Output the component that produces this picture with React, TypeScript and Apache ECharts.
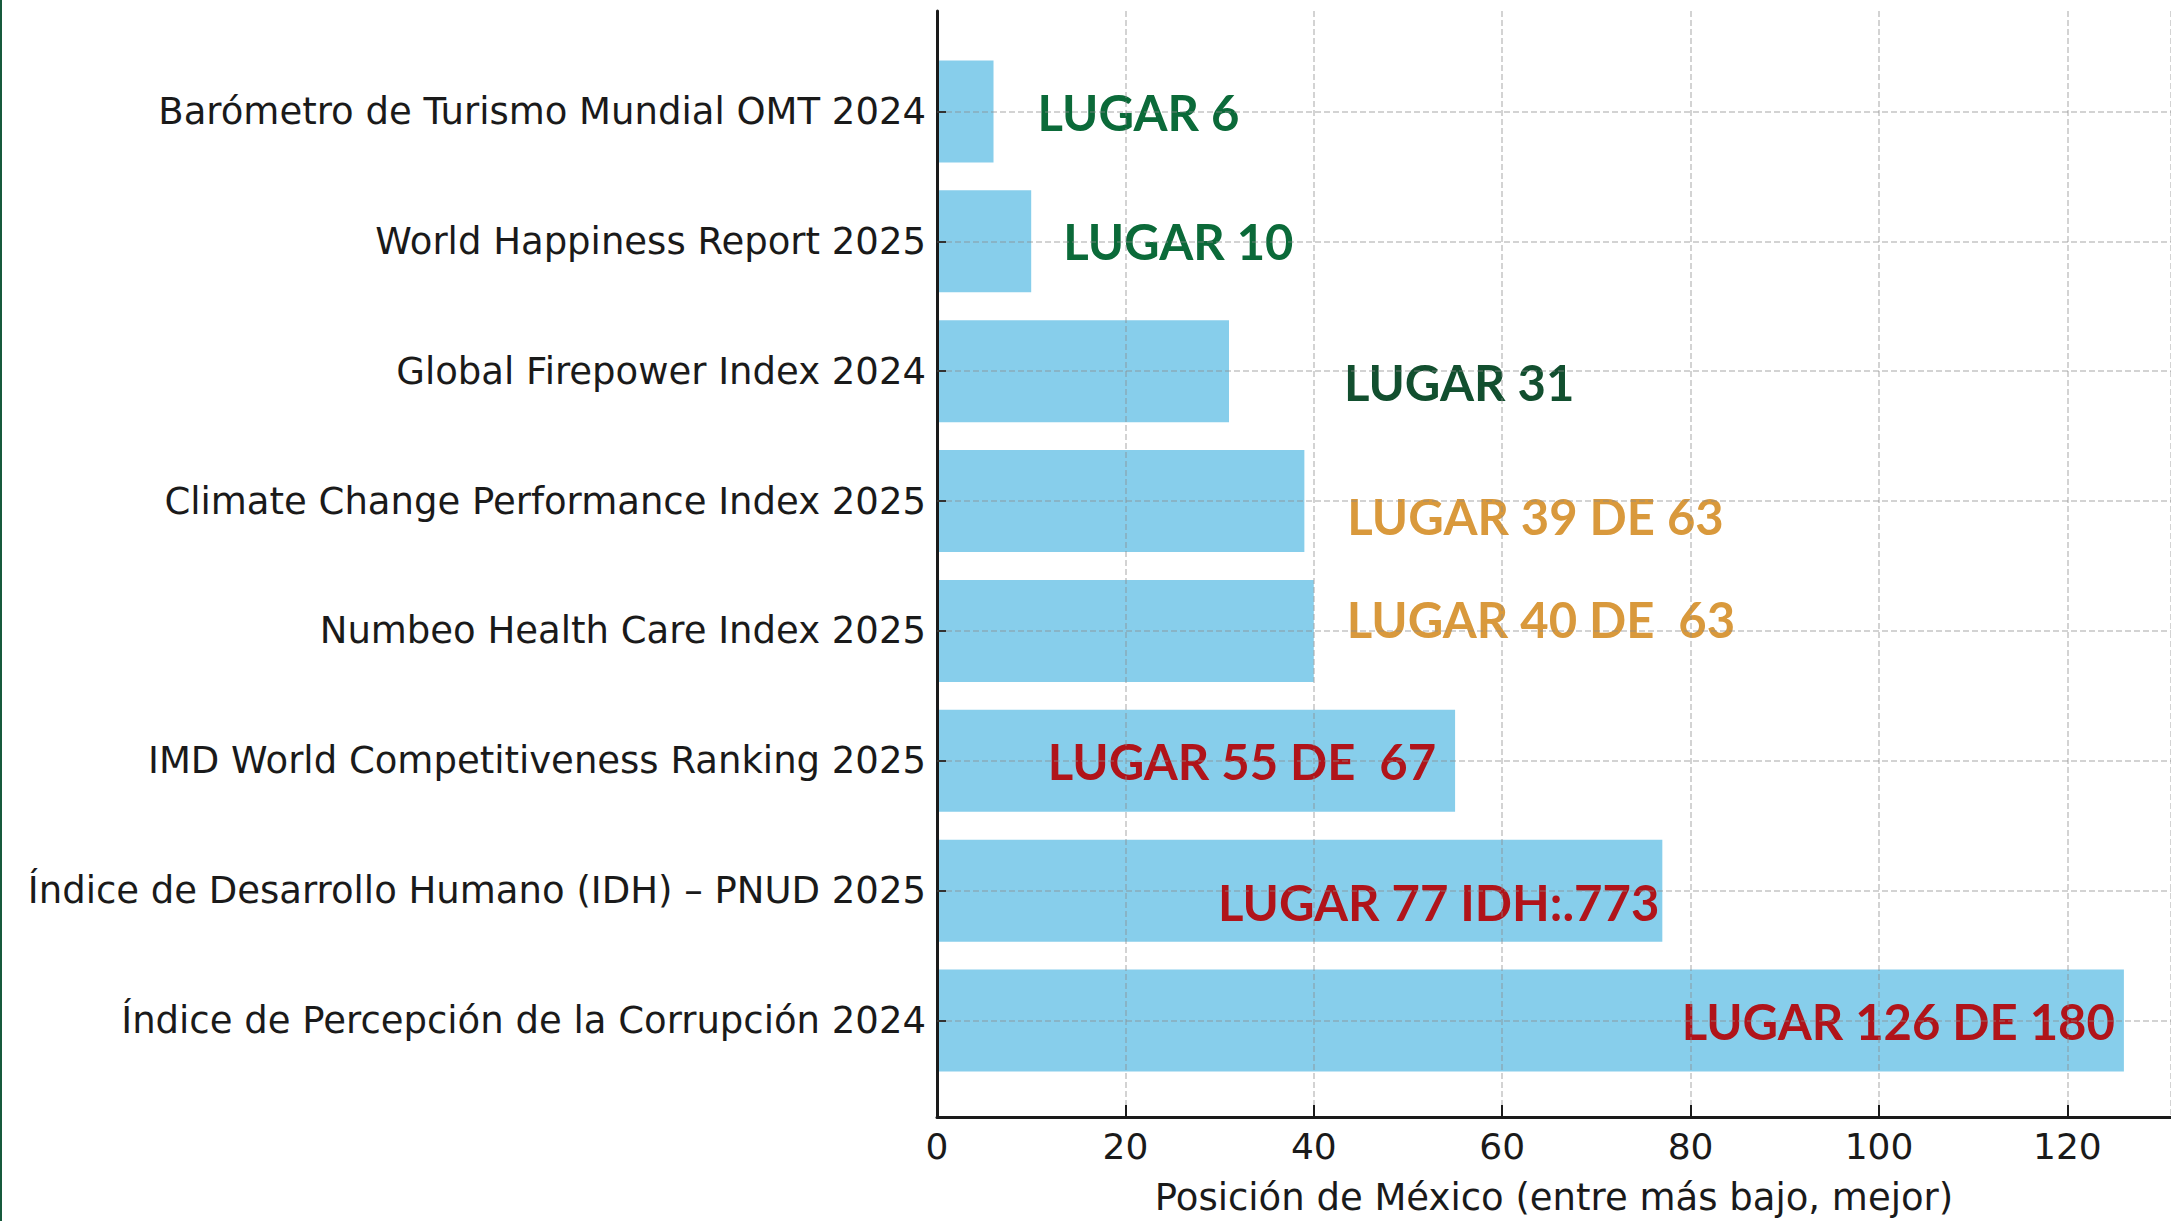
import React, { useEffect, useRef } from "react";
import * as echarts from "echarts";

// ---- data ----
const categories = [
  "Barómetro de Turismo Mundial OMT 2024",
  "World Happiness Report 2025",
  "Global Firepower Index 2024",
  "Climate Change Performance Index 2025",
  "Numbeo Health Care Index 2025",
  "IMD World Competitiveness Ranking 2025",
  "Índice de Desarrollo Humano (IDH) – PNUD 2025",
  "Índice de Percepción de la Corrupción 2024",
];
const positions = [6, 10, 31, 39, 40, 55, 77, 126];
const rankLabels = [
  "LUGAR 6",
  "LUGAR 10",
  "LUGAR 31",
  "LUGAR 39 DE 63",
  "LUGAR 40 DE  63",
  "LUGAR 55 DE  67",
  "LUGAR 77 IDH:.773",
  "LUGAR 126 DE 180",
];
const xTicks = [0, 20, 40, 60, 80, 100, 120];
const xAxisTitle = "Posición de México (entre más bajo, mejor)";

// ---- styling (not data) ----
const labelColors = [
  "#0b6a39",
  "#0b6a39",
  "#124f2f",
  "#d9993c",
  "#d9993c",
  "#b0141a",
  "#b0141a",
  "#b0141a",
];
const labelPlacement: { position: string; distance: number; offset: [number, number] }[] = [
  { position: "right", distance: 44, offset: [0, 0] },
  { position: "right", distance: 32, offset: [0, 0] },
  { position: "right", distance: 115, offset: [0, 11] },
  { position: "right", distance: 43, offset: [0, 15] },
  { position: "right", distance: 33, offset: [0, -12] },
  { position: "insideRight", distance: 19, offset: [0, 0] },
  { position: "insideRight", distance: 3, offset: [0, 11] },
  { position: "insideRight", distance: 9, offset: [0, 0] },
];

const X_MAX = 131;
const PLOT_LEFT = 937;
const FONT = "'DejaVu Sans', sans-serif";
const GRID_COLOR = "rgba(140,140,140,0.5)";

export default function App() {
  const ref = useRef<HTMLDivElement>(null);
  useEffect(() => {
    if (!ref.current) return;
    const chart = echarts.init(ref.current, undefined, { renderer: "svg" });
    chart.setOption({
      animation: false,
      backgroundColor: "#ffffff",
      graphic: [
        {
          type: "rect",
          left: 0,
          top: 0,
          shape: { width: 2, height: 1221 },
          style: { fill: "#175a3c" },
          z: 10,
        },
      ],
      grid: [
        { left: PLOT_LEFT, right: 0, top: 111.5, height: 909 },
        { left: PLOT_LEFT, right: 0, top: 11, height: 1111.5 },
      ],
      xAxis: [
        {
          gridIndex: 0,
          type: "value",
          min: 0,
          max: X_MAX,
          show: false,
        },
        {
          gridIndex: 1,
          type: "value",
          min: 0,
          max: X_MAX,
          interval: 20,
          z: 3,
          axisLine: { show: true, lineStyle: { color: "#1a1a1a", width: 3 } },
          axisTick: { show: true, inside: true, length: 12, lineStyle: { color: "#1a1a1a", width: 2 } },
          axisLabel: {
            show: true,
            margin: 11,
            fontFamily: FONT,
            fontSize: 36,
            color: "#1a1a1a",
            showMaxLabel: false,
            formatter: (v: number) => (xTicks.includes(v) ? String(v) : ""),
          },
          splitLine: { show: true, lineStyle: { color: GRID_COLOR, width: 1.5, type: [6, 3] } },
          name: xAxisTitle,
          nameLocation: "middle",
          nameGap: 62,
          nameTextStyle: { fontFamily: FONT, fontSize: 37, color: "#1a1a1a" },
        },
      ],
      yAxis: [
        {
          gridIndex: 0,
          type: "category",
          data: categories,
          inverse: true,
          boundaryGap: false,
          z: 3,
          axisLine: { show: false },
          axisTick: { show: true, inside: true, length: 9, interval: 0, lineStyle: { color: "#333333", width: 2 } },
          axisLabel: {
            interval: 0,
            margin: 11,
            fontFamily: FONT,
            fontSize: 37,
            color: "#1a1a1a",
          },
          splitLine: { show: true, interval: 0, lineStyle: { color: GRID_COLOR, width: 1.5, type: [6, 3] } },
        },
        {
          gridIndex: 1,
          type: "value",
          min: 0,
          max: 1,
          z: 3,
          axisLine: { show: true, lineStyle: { color: "#1a1a1a", width: 3 } },
          axisTick: { show: false },
          axisLabel: { show: false },
          splitLine: { show: false },
        },
      ],
      series: [
        {
          type: "bar",
          xAxisIndex: 0,
          yAxisIndex: 0,
          barWidth: 102,
          z: 2,
          itemStyle: { color: "#87ceeb" },
          data: positions.map((v, i) => ({
            value: v,
            label: {
              show: true,
              position: labelPlacement[i].position,
              distance: labelPlacement[i].distance,
              offset: labelPlacement[i].offset,
              formatter: rankLabels[i],
              color: labelColors[i],
              fontFamily: "Lato, 'Open Sans', sans-serif",
              fontWeight: "bold",
              fontSize: 49,
            },
          })),
        },
      ],
    });
    return () => chart.dispose();
  }, []);
  return (
    <div
      ref={ref}
      style={{ position: "absolute", left: 0, top: 0, width: 2171, height: 1221 }}
    />
  );
}
